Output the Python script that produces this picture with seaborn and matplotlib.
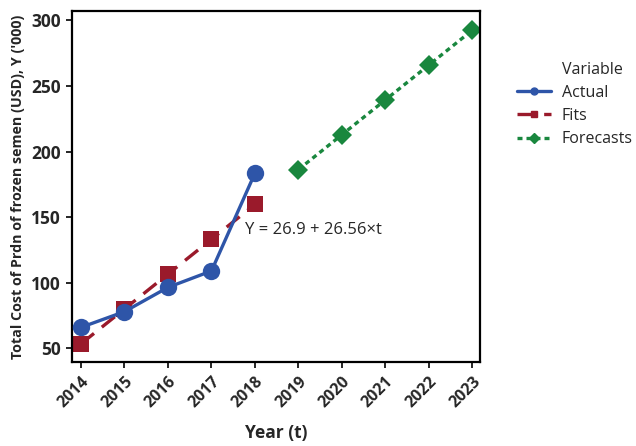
import numpy as np
import pandas as pd
import seaborn as sns
import matplotlib.pyplot as plt
from matplotlib.lines import Line2D

years_actual = [2014, 2015, 2016, 2017, 2018]
actual = [66, 78, 96.5, 109, 183.5]
years_fits = [2014, 2015, 2016, 2017, 2018]
fits = [53.46, 80.02, 106.58, 133.14, 159.7]
years_fc = [2019, 2020, 2021, 2022, 2023]
forecasts = [186.26, 212.82, 239.38, 265.94, 292.5]
tick_years = [2014, 2015, 2016, 2017, 2018, 2019, 2020, 2021, 2022, 2023]

blue = '#2E55A8'
red = '#9A1A2B'
green = '#19873E'

sns.set_style('ticks')
plt.rcParams['font.family'] = ['Open Sans', 'DejaVu Sans']

fig = plt.figure(figsize=(6.36, 4.46), dpi=100)
ax = fig.add_axes([0.113, 0.188, 0.642, 0.787])

sns.lineplot(x=years_actual, y=actual, ax=ax, color=blue, lw=2.4,
             marker='o', markersize=12.5, markeredgewidth=0, zorder=3)
sns.lineplot(x=years_fits, y=fits, ax=ax, color=red, lw=2.4,
             marker='s', markersize=11.5, markeredgewidth=0, zorder=2)
ax.lines[-1].set_dashes([5, 3])
sns.lineplot(x=years_fc, y=forecasts, ax=ax, color=green, lw=2.4,
             marker='D', markersize=10.5, markeredgewidth=0, zorder=2)
ax.lines[-1].set_dashes([1.5, 1.2])

ax.set_xlim(2013.79, 2023.18)
ax.set_ylim(39.5, 307)
ax.set_xticks(tick_years)
ax.set_xticklabels([str(y) for y in tick_years], rotation=45, ha='right',
                   rotation_mode='anchor', fontweight='bold', fontsize=11.5)
ax.set_yticks([50, 100, 150, 200, 250, 300])
ax.set_yticklabels(['50', '100', '150', '200', '250', '300'], fontweight='bold', fontsize=12.5)
for s in ax.spines.values():
    s.set_linewidth(1.6)
    s.set_color('black')
ax.tick_params(width=1.4, length=4.5)

ax.set_xlabel('Year (t)', fontweight='bold', fontsize=12.5, labelpad=10)
ax.set_ylabel("Total Cost of Prdn of frozen semen (USD), Y ('000)", fontweight='bold',
              fontsize=10.3, labelpad=4)

ax.text(2017.78, 140, 'Y = 26.9 + 26.56×t', fontsize=12, va='center', ha='left')

handles = [
    Line2D([], [], color=blue, lw=2.4, marker='o', markersize=5),
    Line2D([], [], color=red, lw=2.4, marker='s', markersize=5, dashes=[5, 3]),
    Line2D([], [], color=green, lw=2.4, marker='D', markersize=5, dashes=[1.5, 1.2]),
]
leg = fig.legend(handles, ['Actual', 'Fits', 'Forecasts'],
                 loc='upper left', bbox_to_anchor=(0.813, 0.81), frameon=False,
                 fontsize=11.5, handlelength=2.1,
                 labelspacing=0.45, handletextpad=0.7, borderpad=0.0, borderaxespad=0.0)
fig.text(0.884, 0.843, 'Variable', fontsize=11.5, ha='left', va='center')

fig.savefig('out.png', dpi=100)
